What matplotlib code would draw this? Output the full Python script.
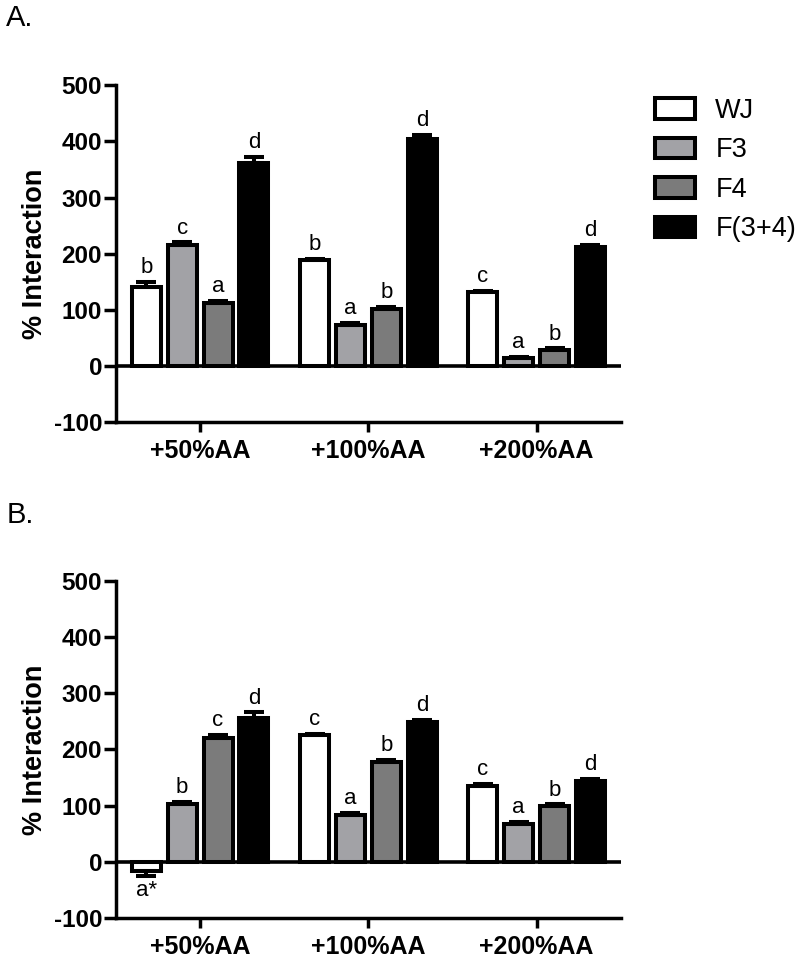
import numpy as np
import matplotlib
matplotlib.use("Agg")
import matplotlib.pyplot as plt

plt.rcParams['font.family'] = ['Liberation Sans', 'DejaVu Sans']
plt.rcParams['axes.unicode_minus'] = False

groups = ['+50%AA', '+100%AA', '+200%AA']
series = ['WJ', 'F3', 'F4', 'F(3+4)']
colors = ['white', '#a2a2a6', '#7b7b7b', 'black']

# panel A values / errors / letters (rows = series, cols = groups)
a_vals = [[141, 188, 131],
          [216, 73, 14],
          [112, 102, 28],
          [362, 405, 212]]
a_errs = [[8, 3, 3],
          [4, 3, 2],
          [3, 3, 3],
          [11, 6, 3]]
a_letters = [['b', 'b', 'c'],
             ['c', 'a', 'a'],
             ['a', 'b', 'b'],
             ['d', 'd', 'd']]

# panel B
b_vals = [[-17, 226, 135],
          [102, 83, 68],
          [221, 178, 99],
          [256, 249, 143]]
b_errs = [[8, 2, 3],
          [4, 3, 3],
          [5, 3, 3],
          [10, 4, 4]]
b_letters = [['a*', 'c', 'c'],
             ['b', 'a', 'a'],
             ['c', 'b', 'b'],
             ['d', 'd', 'd']]


def draw_panel(ax, vals, errs, letters):
    x = np.arange(len(groups))
    slot = 0.213
    offsets = (np.arange(len(series)) - 1.5) * slot
    for i, name in enumerate(series):
        xs = x + offsets[i]
        ax.bar(xs, vals[i], width=0.172, color=colors[i], edgecolor='black',
               linewidth=2.9, label=name, zorder=3)
        # error bars only in the direction of the bar
        for j in range(len(groups)):
            v = vals[i][j]
            e = errs[i][j]
            if v >= 0:
                yerr = [[0], [e]]
            else:
                yerr = [[e], [0]]
            ax.errorbar(xs[j], v, yerr=yerr, fmt='none', ecolor='black',
                        elinewidth=2.9, capsize=7, capthick=2.9, zorder=4)
            if v >= 0:
                ax.text(xs[j], v + e + 7, letters[i][j], ha='center', va='bottom',
                        fontsize=16)
            else:
                ax.text(xs[j], v - e - 8, letters[i][j], ha='center', va='top',
                        fontsize=16)
    ax.axhline(0, color='black', linewidth=2.6, zorder=5)
    ax.set_xlim(-0.5, 2.5)
    ax.set_ylim(-100, 500)
    ax.set_yticks([-100, 0, 100, 200, 300, 400, 500])
    ax.set_xticks(x)
    ax.set_xticklabels(groups, fontsize=18, fontweight='bold')
    for lab in ax.get_yticklabels():
        lab.set_fontsize(17.5)
        lab.set_fontweight('bold')
    ax.set_ylabel('% Interaction', fontsize=19.5, fontweight='bold', labelpad=4)
    ax.spines['top'].set_visible(False)
    ax.spines['right'].set_visible(False)
    ax.spines['left'].set_linewidth(2.5)
    ax.spines['bottom'].set_linewidth(2.5)
    ax.tick_params(axis='y', width=2.5, length=9, direction='out', pad=1)
    ax.tick_params(axis='x', width=2.5, length=7.5, direction='out', pad=5)


fig = plt.figure(figsize=(8, 9.59), dpi=100)
ax1 = fig.add_axes([0.145, 0.560, 0.631, 0.351])
ax2 = fig.add_axes([0.145, 0.043, 0.631, 0.351])

draw_panel(ax1, a_vals, a_errs, a_letters)
draw_panel(ax2, b_vals, b_errs, b_letters)

leg = ax1.legend(loc='upper left', bbox_to_anchor=(0.819, 0.898),
                 bbox_transform=fig.transFigure, frameon=False, fontsize=19.5,
                 handlelength=1.48, handleheight=0.8, labelspacing=0.5,
                 handletextpad=0.74, borderpad=0, borderaxespad=0)

fig.text(0.008, 0.981, 'A.', fontsize=21, va='center')
fig.text(0.008, 0.463, 'B.', fontsize=21, va='center')

fig.savefig('out.png', dpi=100)
